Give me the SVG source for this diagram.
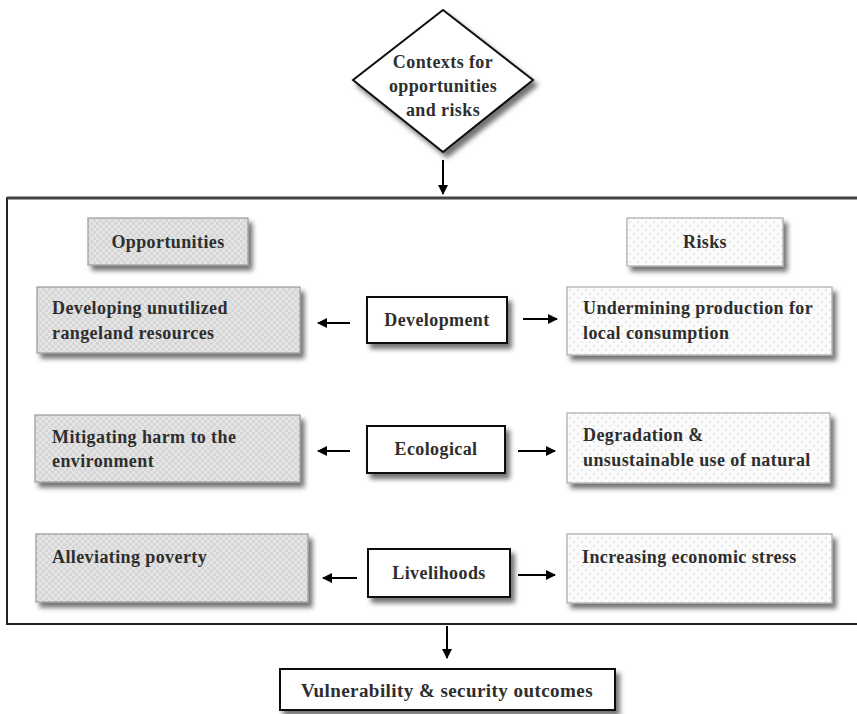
<svg xmlns="http://www.w3.org/2000/svg" width="857" height="714" viewBox="0 0 857 714">
<style>
  .t{font-family:"Liberation Serif","DejaVu Serif",serif;font-weight:bold;fill:#2e2e2e;font-size:18px;letter-spacing:0.4px}
  .c{text-anchor:middle}
  .opp{fill:url(#hatch);stroke:#9a9a9a;stroke-width:1.2}
  .risk{fill:url(#dots);stroke:#a8a8a8;stroke-width:1.2}
  .mid{fill:#fff;stroke:#111;stroke-width:2}
  .conn line{stroke:#000;stroke-width:2;fill:none}
</style>
<defs>
  <pattern id="hatch" width="6" height="6" patternUnits="userSpaceOnUse">
    <rect width="6" height="6" fill="#e4e4e4"/>
    <rect width="3" height="3" fill="#d6d6d6"/>
    <rect x="3" y="3" width="3" height="3" fill="#d6d6d6"/>
  </pattern>
  <pattern id="dots" width="8" height="8" patternUnits="userSpaceOnUse">
    <rect width="8" height="8" fill="#fbfbfb"/>
    <circle cx="2" cy="2" r="0.8" fill="#cfcfcf"/>
    <circle cx="6" cy="6" r="0.8" fill="#cfcfcf"/>
  </pattern>
  <filter id="sh" x="-10%" y="-20%" width="130%" height="160%">
    <feDropShadow dx="4" dy="5" stdDeviation="2.5" flood-color="#000" flood-opacity="0.55"/>
  </filter>
  <marker id="ah" viewBox="0 0 10 10" refX="9" refY="5" markerWidth="5" markerHeight="5" orient="auto" markerUnits="strokeWidth">
    <path d="M0,0 L10,5 L0,10 z" fill="#000"/>
  </marker>
</defs>
<rect width="857" height="714" fill="#fff"/>

<g id="frame">
  <rect x="7" y="198" width="860" height="426" fill="none" stroke="#222" stroke-width="2"/>
  <line x1="7" y1="198" x2="857" y2="198" stroke="#444" stroke-width="3"/>
</g>

<g id="contexts">
  <polygon points="443,10 533,80 443,152 353,80" fill="#fff" stroke="#111" stroke-width="2" filter="url(#sh)"/>
  <text class="t c" x="443" y="68">Contexts for</text>
  <text class="t c" x="443" y="92">opportunities</text>
  <text class="t c" x="443" y="116">and risks</text>
</g>

<g id="opportunities">
  <rect class="opp" x="88" y="218" width="160" height="47" filter="url(#sh)"/>
  <text class="t c" x="168" y="248">Opportunities</text>
</g>
<g id="risks">
  <rect class="risk" x="627" y="218" width="156" height="48" filter="url(#sh)"/>
  <text class="t c" x="705" y="248">Risks</text>
</g>

<g id="opp-development">
  <rect class="opp" x="37" y="287" width="263" height="66" filter="url(#sh)"/>
  <text class="t" x="52" y="314">Developing unutilized</text>
  <text class="t" x="52" y="339">rangeland resources</text>
</g>
<g id="development">
  <rect class="mid" x="367" y="297" width="140" height="46" filter="url(#sh)"/>
  <text class="t c" x="437" y="326">Development</text>
</g>
<g id="risk-development">
  <rect class="risk" x="567" y="287" width="265" height="68" filter="url(#sh)"/>
  <text class="t" x="583" y="314">Undermining production for</text>
  <text class="t" x="583" y="339">local consumption</text>
</g>

<g id="opp-ecological">
  <rect class="opp" x="35" y="415" width="265" height="67" filter="url(#sh)"/>
  <text class="t" x="52" y="443">Mitigating harm to the</text>
  <text class="t" x="52" y="467">environment</text>
</g>
<g id="ecological">
  <rect class="mid" x="367" y="426" width="138" height="47" filter="url(#sh)"/>
  <text class="t c" x="436" y="455">Ecological</text>
</g>
<g id="risk-ecological">
  <rect class="risk" x="567" y="413" width="263" height="70" filter="url(#sh)"/>
  <text class="t" x="583" y="441">Degradation &amp;</text>
  <text class="t" x="583" y="466">unsustainable use of natural</text>
</g>

<g id="opp-livelihoods">
  <rect class="opp" x="36" y="534" width="272" height="68" filter="url(#sh)"/>
  <text class="t" x="52" y="563">Alleviating poverty</text>
</g>
<g id="livelihoods">
  <rect class="mid" x="368" y="549" width="142" height="48" filter="url(#sh)"/>
  <text class="t c" x="439" y="579">Livelihoods</text>
</g>
<g id="risk-livelihoods">
  <rect class="risk" x="567" y="534" width="265" height="69" filter="url(#sh)"/>
  <text class="t" x="582" y="563">Increasing economic stress</text>
</g>

<g id="outcomes">
  <rect class="mid" x="280" y="669" width="335" height="41" filter="url(#sh)"/>
  <text class="t c" x="447" y="697" textLength="292" lengthAdjust="spacingAndGlyphs">Vulnerability &amp; security outcomes</text>
</g>

<g id="connectors" class="conn">
  <line x1="443" y1="160" x2="443" y2="194" marker-end="url(#ah)"/>
  <line x1="350" y1="323" x2="318" y2="323" marker-end="url(#ah)"/>
  <line x1="523" y1="319" x2="557" y2="319" marker-end="url(#ah)"/>
  <line x1="350" y1="451" x2="318" y2="451" marker-end="url(#ah)"/>
  <line x1="518" y1="451" x2="555" y2="451" marker-end="url(#ah)"/>
  <line x1="357" y1="578" x2="323" y2="578" marker-end="url(#ah)"/>
  <line x1="518" y1="575" x2="555" y2="575" marker-end="url(#ah)"/>
  <line x1="447" y1="626" x2="447" y2="658" marker-end="url(#ah)"/>
</g>
</svg>
